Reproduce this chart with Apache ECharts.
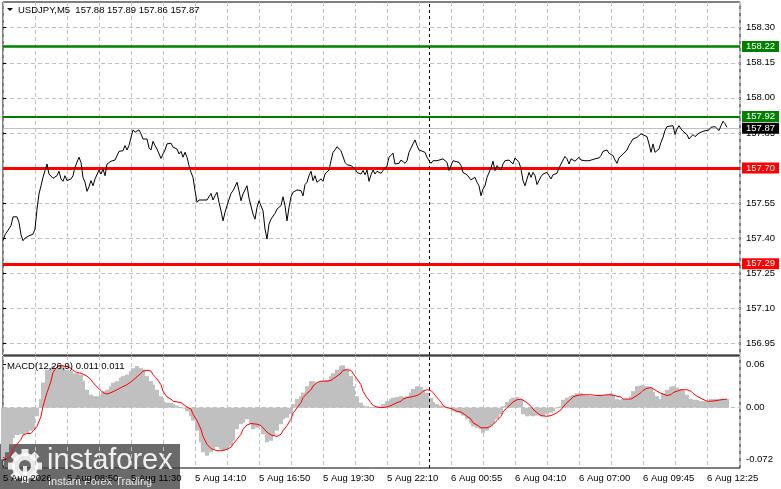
<!DOCTYPE html>
<html>
<head>
<meta charset="utf-8">
<script src="https://cdn.jsdelivr.net/npm/echarts@6/dist/echarts.min.js"></script>
<style>
    html, body { margin: 0; padding: 0; background: #fff; }
    #chart { width: 781px; height: 489px; }
</style>
</head>
<body>
<div id="chart"></div>
<script>
/* 标题和刻度 */
var symbolTitle = 'USDJPY,M5  157.88 157.89 157.86 157.87';
var macdTitle = 'MACD(12,26,9) 0.011 0.011';
var timeLabels = ['5 Aug 2026', '5 Aug 08:50', '5 Aug 11:30', '5 Aug 14:10', '5 Aug 16:50', '5 Aug 19:30',
    '5 Aug 22:10', '6 Aug 00:55', '6 Aug 04:10', '6 Aug 07:00', '6 Aug 09:45', '6 Aug 12:25'];
var priceTicks = [156.95, 157.10, 157.25, 157.40, 157.55, 157.70, 157.85, 158.00, 158.15, 158.30];
var macdTicks = [-0.072, 0, 0.06];
var levels = [158.22, 157.92, 157.70, 157.29];
var lastClose = 157.87;
var separatorBar = 213;

/* 收盘价 (bar index, close) */
var priceBars = [
    0, 1, 2, 4, 5, 6, 7, 8, 9, 10, 11, 13, 15, 16, 17, 18, 19, 20, 21, 22, 23, 24, 25, 27, 28, 29, 30, 31, 32, 34,
    35, 36, 38, 39, 40, 41, 42, 43, 44, 45, 46, 47, 48, 49, 50, 51, 52, 54, 55, 56, 57, 58, 59, 60, 61, 62, 63, 64,
    65, 66, 68, 69, 70, 71, 72, 73, 74, 75, 76, 77, 79, 80, 81, 82, 83, 84, 85, 87, 88, 89, 90, 91, 92, 93, 94, 95,
    96, 97, 98, 100, 101, 102, 103, 104, 105, 106, 107, 108, 109, 110, 111, 112, 113, 114, 115, 116, 117, 118, 119,
    120, 121,
    122, 123, 125, 126, 127, 128, 130, 131, 132, 133, 134, 136, 137, 138, 139, 140, 141, 142, 143, 144, 145, 146,
    147, 149, 150, 151, 152, 153, 154, 155, 156, 157, 159, 160, 161, 162, 163, 164, 165, 166, 167, 169, 170, 171,
    172, 174, 175, 176, 177, 179, 180, 181, 182, 183, 184, 185, 186, 187, 189, 190, 191, 192, 193, 194, 195, 196,
    198, 199, 200, 201, 202, 203, 205, 206, 207, 208, 209, 211, 212, 213, 214, 215, 217, 218, 220, 221, 222, 223,
    224, 225, 226, 228, 229, 230, 231, 232, 234, 235, 236, 237, 238, 239, 240, 241, 242, 244,
    245, 246, 247, 248, 249, 250, 251, 253, 254, 255, 256, 257, 258, 259, 260, 261, 262, 263, 264, 265, 266, 267,
    268, 269, 270, 272, 273, 274, 275, 277, 278, 279, 280, 281, 282, 283, 284, 285, 286, 288, 289, 290, 291, 293,
    294, 296, 298, 299, 300, 301, 302, 303, 304, 305, 306, 307, 308, 310, 311, 312, 313, 314, 315, 317, 318, 319,
    320, 322, 323, 324, 325, 326, 328, 329, 330, 331, 332, 333, 335, 336, 337, 338, 339, 340, 342, 343, 344, 345,
    346, 348, 349, 350, 351, 353, 354, 355, 356, 357, 358, 359, 360, 361, 362
];
var priceClose = [
    157.389, 157.414, 157.420, 157.453, 157.491, 157.499, 157.491, 157.467, 157.414, 157.389, 157.400, 157.410,
    157.417, 157.439, 157.524, 157.589, 157.624, 157.660, 157.663, 157.717, 157.674, 157.667, 157.656, 157.667,
    157.686, 157.653, 157.643, 157.667, 157.646, 157.653, 157.667, 157.703, 157.746, 157.724, 157.660, 157.639,
    157.600, 157.620, 157.646, 157.624, 157.653, 157.660, 157.691, 157.674, 157.696, 157.667, 157.717, 157.729,
    157.724, 157.734, 157.734, 157.771, 157.777, 157.774, 157.796, 157.777, 157.796, 157.831, 157.863, 157.853,
    157.863, 157.846, 157.824, 157.831, 157.824, 157.786, 157.777, 157.814, 157.796, 157.781, 157.741, 157.760,
    157.777, 157.803, 157.796, 157.806, 157.789, 157.781, 157.760, 157.771, 157.746, 157.767, 157.746, 157.710,
    157.681, 157.660, 157.603, 157.553, 157.563, 157.563, 157.563, 157.563, 157.577, 157.591, 157.563, 157.581,
    157.596, 157.553, 157.517, 157.474, 157.510, 157.539, 157.543, 157.591, 157.603, 157.620, 157.639, 157.603,
    157.560, 157.589, 157.591,
    157.624, 157.571, 157.503, 157.481, 157.531, 157.560, 157.517, 157.439, 157.396, 157.460, 157.481, 157.506,
    157.524, 157.517, 157.539, 157.577, 157.539, 157.474, 157.531, 157.577, 157.596, 157.596, 157.606, 157.603,
    157.581, 157.629, 157.639, 157.667, 157.686, 157.646, 157.667, 157.639, 157.653, 157.643, 157.674, 157.681,
    157.691, 157.731, 157.767, 157.777, 157.791, 157.774, 157.767, 157.724, 157.714, 157.710, 157.714, 157.696,
    157.681, 157.674, 157.689, 157.671, 157.691, 157.643, 157.671, 157.691, 157.674, 157.686, 157.677, 157.689,
    157.691, 157.710, 157.746, 157.746, 157.763, 157.717, 157.720, 157.734, 157.729, 157.720, 157.731, 157.767,
    157.803, 157.820, 157.796, 157.777, 157.777, 157.767, 157.746, 157.731, 157.720, 157.731, 157.731, 157.734,
    157.739, 157.734, 157.724, 157.689, 157.710, 157.731, 157.731, 157.724, 157.710, 157.681, 157.677, 157.671,
    157.649, 157.653, 157.660, 157.639, 157.624, 157.581, 157.610, 157.624, 157.660, 157.700,
    157.729, 157.689, 157.710, 157.703, 157.691, 157.717, 157.731, 157.734, 157.739, 157.717, 157.743, 157.746,
    157.724, 157.696, 157.646, 157.624, 157.631, 157.681, 157.660, 157.681, 157.667, 157.629, 157.646, 157.663,
    157.674, 157.681, 157.667, 157.653, 157.671, 157.677, 157.700, 157.717, 157.734, 157.749, 157.739, 157.717,
    157.739, 157.746, 157.729, 157.746, 157.734, 157.739, 157.731, 157.731, 157.739, 157.739, 157.743, 157.753,
    157.771, 157.763, 157.777, 157.763, 157.771, 157.753, 157.734, 157.720, 157.743, 157.760, 157.753, 157.777,
    157.796, 157.810, 157.824, 157.831, 157.839, 157.846, 157.849, 157.834, 157.803, 157.767, 157.803, 157.767,
    157.781, 157.810, 157.831, 157.860, 157.877, 157.874, 157.881, 157.843, 157.867, 157.881, 157.867, 157.857,
    157.843, 157.824, 157.831, 157.843, 157.834, 157.849, 157.846, 157.857, 157.857, 157.863, 157.874, 157.867,
    157.877, 157.871, 157.860, 157.881, 157.900, 157.889, 157.874
];

/* MACD (bar index, main, signal) */
var macdBars = [
    0, 2, 4, 5, 7, 9, 10, 12, 14, 15, 17, 19, 20, 22, 24, 25, 27, 29, 30, 32, 34, 35, 37, 39, 40, 42, 44, 45, 47, 49,
    50, 52, 54, 55, 57, 59, 60, 62, 64, 65, 67, 69, 70, 72, 74, 75, 77, 79, 80, 82, 84, 85, 87, 89, 90, 92, 94, 95,
    97, 99, 100, 102, 104, 105, 107, 109, 110, 112, 114, 115, 117, 119, 120, 122, 124, 125, 127, 129, 130, 132, 134,
    135, 137, 139, 140, 142, 144, 145, 147, 149, 150, 152, 154, 155, 157, 159, 160, 162, 164, 165, 167, 169, 170,
    172, 174, 175, 177, 179, 180, 182, 184, 185, 187, 189, 190, 192, 194,
    195, 197, 199, 200, 202, 204, 205, 207, 209, 210, 212, 214, 215, 217, 219, 220, 222, 224, 225, 227, 229, 230,
    232, 234, 235, 237, 239, 240, 242, 244, 245, 247, 249, 250, 252, 254, 255, 257, 259, 260, 262, 264, 265, 267,
    269, 270, 272, 274, 275, 277, 279, 280, 282, 284, 285, 287, 289, 290, 292, 294, 295, 297, 299, 300, 302, 304,
    305, 307, 309, 310, 312, 314, 315, 317, 319, 320, 322, 324, 325, 327, 329, 330, 332, 334, 335, 337, 339, 340,
    342, 344, 345, 347, 349, 350, 352, 354, 355, 357, 359, 360, 362
];
var macdMain = [
    -0.072, -0.062, -0.051, -0.042, -0.038, -0.037, -0.037, -0.035, -0.032, -0.030,
    -0.012, 0.012, 0.035, 0.053, 0.055, 0.058, 0.055, 0.060, 0.058, 0.053,
    0.051, 0.048, 0.048, 0.046, 0.037, 0.025, 0.018, 0.016, 0.016, 0.018,
    0.023, 0.025, 0.030, 0.035, 0.037, 0.042, 0.044, 0.046, 0.051, 0.055,
    0.058, 0.055, 0.053, 0.044, 0.037, 0.032, 0.025, 0.016, 0.009, 0.007,
    0.007, 0.005, 0.003, 0.001, -0.001, -0.005, -0.012, -0.018, -0.032, -0.048,
    -0.062, -0.067, -0.062, -0.058, -0.055, -0.058, -0.060, -0.058, -0.053, -0.046,
    -0.030, -0.023, -0.021, -0.016, -0.023, -0.030, -0.028, -0.025, -0.037, -0.048,
    -0.046, -0.039, -0.032, -0.023, -0.016, -0.014, -0.009, 0.005, 0.012, 0.016,
    0.021, 0.030, 0.037, 0.037, 0.035, 0.037, 0.037, 0.039, 0.044, 0.048,
    0.053, 0.058, 0.059, 0.053, 0.044, 0.030, 0.016, 0.007, 0.003, 0.002,
    0.001, 0.001, 0.001, 0.001, 0.005, 0.009, 0.012,
    0.014, 0.015, 0.016, 0.015, 0.016, 0.021, 0.026, 0.030, 0.029, 0.025,
    0.021, 0.014, 0.008, 0.005, 0.003, 0.002, 0.001, -0.001, -0.005, -0.007,
    -0.008, -0.011, -0.016, -0.022, -0.026, -0.028, -0.030, -0.035, -0.032, -0.026,
    -0.022, -0.016, -0.009, 0.002, 0.008, 0.012, 0.014, 0.015, 0.012, -0.009,
    -0.012, -0.011, -0.012, -0.011, -0.012, -0.012, -0.009, -0.007, -0.005, -0.001,
    0.002, 0.011, 0.014, 0.016, 0.018, 0.020, 0.020, 0.018, 0.017, 0.016,
    0.016, 0.016, 0.017, 0.017, 0.018, 0.020, 0.018, 0.012, 0.011, 0.012,
    0.012, 0.016, 0.023, 0.030, 0.031, 0.031, 0.030, 0.028, 0.022, 0.016,
    0.012, 0.020, 0.025, 0.029, 0.030, 0.028, 0.026, 0.024, 0.018, 0.012,
    0.011, 0.011, 0.009, 0.009, 0.009, 0.012, 0.012, 0.012, 0.012, 0.012,
    0.012
];
var macdSignal = [
    -0.069, -0.072, -0.067, -0.058, -0.051, -0.044, -0.038, -0.036, -0.036, -0.034,
    -0.026, -0.012, 0.002, 0.021, 0.037, 0.049, 0.057, 0.059, 0.058, 0.057,
    0.055, 0.052, 0.049, 0.048, 0.048, 0.044, 0.039, 0.035, 0.029, 0.024,
    0.021, 0.019, 0.021, 0.023, 0.025, 0.028, 0.030, 0.032, 0.036, 0.038,
    0.043, 0.048, 0.051, 0.052, 0.051, 0.046, 0.040, 0.032, 0.023, 0.015,
    0.012, 0.009, 0.008, 0.007, 0.005, 0.001, -0.002, -0.009, -0.018, -0.030,
    -0.040, -0.051, -0.057, -0.059, -0.060, -0.060, -0.060, -0.058, -0.055, -0.051,
    -0.044, -0.037, -0.030, -0.024, -0.022, -0.022, -0.023, -0.025, -0.028, -0.034,
    -0.038, -0.040, -0.040, -0.037, -0.032, -0.025, -0.016, -0.008, 0.000, 0.007,
    0.014, 0.020, 0.025, 0.030, 0.035, 0.037, 0.037, 0.037, 0.038, 0.040,
    0.044, 0.048, 0.052, 0.053, 0.052, 0.048, 0.040, 0.032, 0.023, 0.014,
    0.007, 0.003, 0.001, 0.000, 0.000, 0.001, 0.003,
    0.005, 0.007, 0.009, 0.012, 0.014, 0.015, 0.016, 0.017, 0.020, 0.023,
    0.025, 0.024, 0.021, 0.014, 0.008, 0.003, 0.000, -0.001, -0.003, -0.005,
    -0.006, -0.008, -0.012, -0.016, -0.021, -0.024, -0.028, -0.029, -0.028, -0.026,
    -0.023, -0.018, -0.012, -0.006, 0.000, 0.005, 0.008, 0.011, 0.012, 0.012,
    0.007, 0.002, -0.002, -0.007, -0.011, -0.012, -0.012, -0.011, -0.009, -0.007,
    -0.003, 0.001, 0.007, 0.012, 0.015, 0.017, 0.018, 0.018, 0.018, 0.018,
    0.018, 0.017, 0.017, 0.018, 0.018, 0.018, 0.018, 0.016, 0.015, 0.012,
    0.012, 0.012, 0.014, 0.017, 0.021, 0.024, 0.027, 0.028, 0.026, 0.023,
    0.020, 0.018, 0.017, 0.018, 0.021, 0.023, 0.025, 0.026, 0.025, 0.023,
    0.020, 0.016, 0.013, 0.011, 0.009, 0.009, 0.009, 0.010, 0.011, 0.011,
    0.012
];

(function () {
    var FONT = 'Liberation Sans';
    var GRID_DASH = [4, 3];
    var levelColors = ['#008000', '#008000', '#ff0000', '#ff0000'];
    var levelWidths = [2.5, 2, 3, 3];

    var chart = echarts.init(document.getElementById('chart'), null, { renderer: 'canvas' });

    function zip(xs, ys) {
        return xs.map(function (x, i) { return [x, ys[i]]; });
    }

    // 右侧价格框
    var boxLabel = function (bg) {
        return {
            show: true,
            position: 'end',
            distance: 2,
            formatter: function (p) { return p.value.toFixed(2); },
            color: '#fff',
            backgroundColor: bg,
            padding: [1, 4, 0, 4],
            fontFamily: FONT,
            fontSize: 9.5
        };
    };

    var levelLines = levels.map(function (v, i) {
        return {
            yAxis: v,
            lineStyle: { color: levelColors[i], width: levelWidths[i], type: 'solid' },
            label: boxLabel(levelColors[i])
        };
    });
    levelLines.unshift({
        yAxis: lastClose,
        lineStyle: { color: '#c0c0c0', width: 1, type: 'solid' },
        label: boxLabel('#000')
    });
    levelLines.push({
        xAxis: separatorBar,
        lineStyle: { color: '#000', width: 1, type: [3, 3] },
        label: { show: false }
    });

    var xAxisBase = function (gridIndex, showLabel) {
        return {
            type: 'value',
            gridIndex: gridIndex,
            min: 0,
            max: 368.5,
            interval: 16,
            axisLine: { show: false },
            axisTick: { show: false },
            splitLine: { show: true, lineStyle: { color: '#c0c0c0', type: GRID_DASH } },
            axisLabel: {
                show: showLabel,
                align: 'left',
                margin: 5,
                color: '#000',
                fontFamily: FONT,
                fontSize: 9.5,
                showMinLabel: true,
                showMaxLabel: false,
                formatter: function (v) {
                    return v % 32 === 0 && timeLabels[v / 32] ? timeLabels[v / 32] : '';
                }
            }
        };
    };

    var option = {
        animation: false,
        backgroundColor: '#fff',
        grid: [
            { left: 3, right: 41, top: 2, height: 353, show: true, borderColor: '#000', borderWidth: 1, backgroundColor: 'transparent' },
            { left: 3, right: 41, top: 356, height: 112, show: true, borderColor: '#000', borderWidth: 1, backgroundColor: 'transparent' }
        ],
        xAxis: [xAxisBase(0, false), xAxisBase(1, true)],
        yAxis: [
            {
                type: 'value',
                gridIndex: 0,
                position: 'right',
                min: 156.90,
                max: 158.41,
                axisLine: { show: false },
                axisTick: { show: true, length: 3, lineStyle: { color: '#000' }, customValues: priceTicks },
                splitLine: { show: true, lineStyle: { color: '#c0c0c0', type: GRID_DASH } },
                axisLabel: {
                    customValues: priceTicks,
                    margin: 6,
                    color: '#000',
                    fontFamily: FONT,
                    fontSize: 9.5,
                    formatter: function (v) { return v.toFixed(2); }
                }
            },
            {
                type: 'value',
                gridIndex: 1,
                position: 'right',
                min: -0.084,
                max: 0.072,
                axisLine: { show: false },
                axisTick: { show: true, length: 3, lineStyle: { color: '#000' }, customValues: macdTicks },
                splitLine: { show: false },
                axisLabel: {
                    customValues: macdTicks,
                    margin: 6,
                    color: '#000',
                    fontFamily: FONT,
                    fontSize: 9.5,
                    formatter: function (v) {
                        if (v === 0) return '0.00';
                        return v === 0.06 ? '0.06' : String(v);
                    }
                }
            }
        ],
        series: [
            {
                name: 'USDJPY',
                type: 'line',
                xAxisIndex: 0,
                yAxisIndex: 0,
                data: zip(priceBars, priceClose),
                symbol: 'none',
                lineStyle: { color: '#000', width: 1 },
                z: 5,
                markLine: { silent: true, symbol: 'none', animation: false, data: levelLines }
            },
            {
                name: 'MACD',
                type: 'bar',
                xAxisIndex: 1,
                yAxisIndex: 1,
                data: zip(macdBars, macdMain),
                barWidth: 4,
                itemStyle: { color: '#c0c0c0' },
                markLine: {
                    silent: true,
                    symbol: 'none',
                    animation: false,
                    label: { show: false },
                    data: [
                        { yAxis: 0, lineStyle: { color: '#c0c0c0', width: 1, type: GRID_DASH } },
                        { xAxis: separatorBar, lineStyle: { color: '#000', width: 1, type: [3, 3] } }
                    ]
                }
            },
            {
                name: 'Signal',
                type: 'line',
                xAxisIndex: 1,
                yAxisIndex: 1,
                data: zip(macdBars, macdSignal),
                symbol: 'none',
                lineStyle: { color: '#ff0000', width: 1 },
                z: 5
            }
        ],
        graphic: [
            { type: 'polygon', shape: { points: [[7, 8], [13, 8], [10, 11]] }, style: { fill: '#000' }, z: 50 },
            { type: 'text', x: 18, y: 10, style: { text: symbolTitle, fill: '#000', font: '9.5px "' + FONT + '"', textVerticalAlign: 'middle' }, z: 50 },
            { type: 'text', x: 7, y: 366, style: { text: macdTitle, fill: '#000', font: '9.5px "' + FONT + '"', textVerticalAlign: 'middle' }, z: 50 },
            /* 水印 */
            {
                type: 'group',
                x: 0,
                y: 444,
                z: 100,
                children: [
                    { type: 'rect', shape: { x: 0, y: 0, width: 180, height: 45 }, style: { fill: 'rgba(64,64,64,0.78)' } },
                    {
                        type: 'group',
                        x: 25,
                        y: 22,
                        children: [0, 1, 2, 3, 4, 5, 6, 7].map(function (k) {
                            return {
                                type: 'rect',
                                rotation: k * Math.PI / 4,
                                shape: { x: -3.5, y: -17, width: 7, height: 7 },
                                style: { fill: 'rgba(255,255,255,0.85)' }
                            };
                        }).concat([
                            { type: 'ring', shape: { cx: 0, cy: 0, r: 13, r0: 6 }, style: { fill: 'rgba(255,255,255,0.85)' } },
                            { type: 'rect', shape: { x: -2, y: 0, width: 4, height: 9 }, style: { fill: 'rgba(255,255,255,0.85)' } }
                        ])
                    },
                    { type: 'text', x: 47, y: 17, style: { text: 'instaforex', fill: 'rgba(255,255,255,0.9)', font: '29px "' + FONT + '"', textVerticalAlign: 'middle' } },
                    { type: 'text', x: 48, y: 38, style: { text: 'Instant Forex Trading', fill: 'rgba(255,255,255,0.85)', font: '11px "' + FONT + '"', textVerticalAlign: 'middle' } }
                ]
            }
        ]
    };

    chart.setOption(option);
})();
</script>
</body>
</html>
